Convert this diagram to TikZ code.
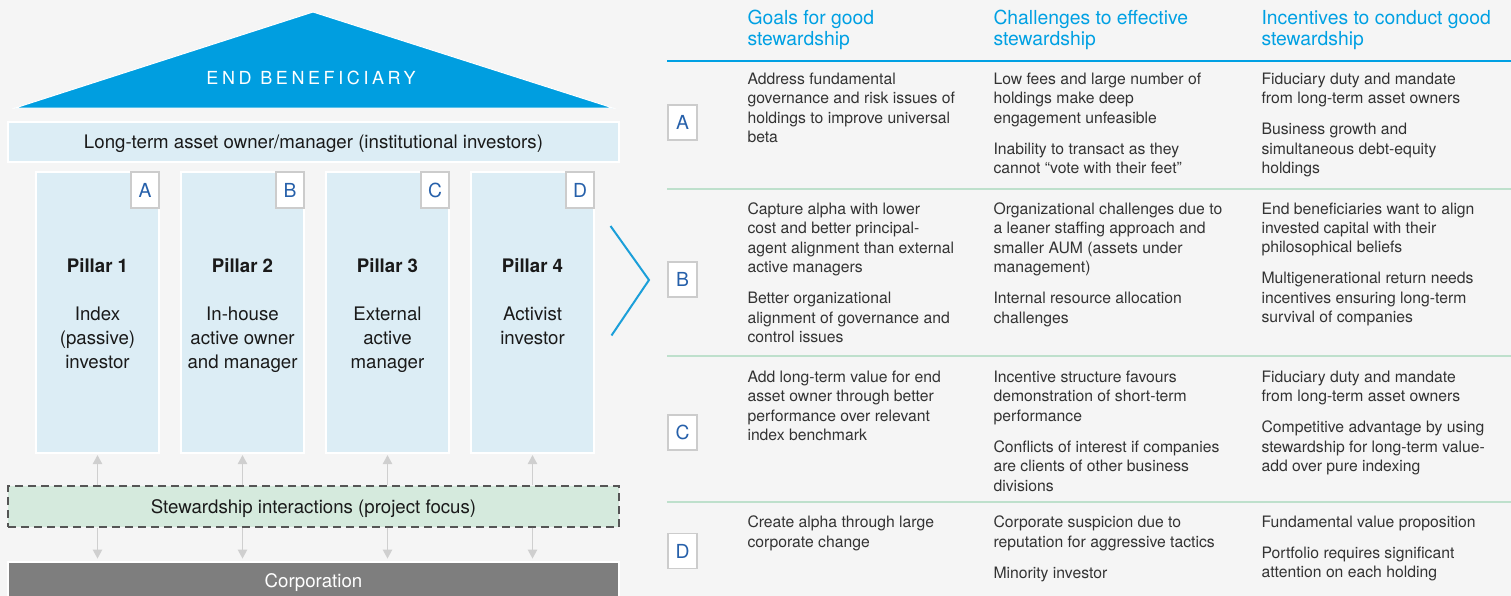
\documentclass[tikz,border=0pt]{standalone}
\usepackage{fontspec}
\setmainfont{TeX Gyre Heros}
\newfontfamily\spacedfont[LetterSpace=20]{TeX Gyre Heros}
\usepackage{tikz}
\usetikzlibrary{arrows.meta}
\definecolor{pagegray}{RGB}{245,245,245}
\definecolor{roofblue}{RGB}{0,158,224}
\definecolor{paleblue}{RGB}{220,237,245}
\definecolor{palegreen}{RGB}{213,234,221}
\definecolor{corpgray}{RGB}{126,126,126}
\definecolor{headblue}{RGB}{0,160,227}
\definecolor{letterblue}{RGB}{38,96,170}
\definecolor{rulegreen}{RGB}{190,224,204}
\definecolor{boxgray}{RGB}{204,204,204}
\definecolor{arrowgray}{RGB}{207,207,207}
\definecolor{bodytext}{RGB}{51,51,51}
\tikzset{every picture/.style={line width=0.75pt},
  bigtext/.style={text={rgb,255:red,26;green,26;blue,26}, font=\fontsize{14pt}{18pt}\selectfont},
  band/.style={bigtext, draw=white, line width=1.1pt, minimum width=458.25pt, inner sep=0pt, text height=10pt, text depth=0pt},
  pillar/.style={draw=white, line width=1.1pt, fill=paleblue, minimum width=92.25pt, minimum height=210.75pt, inner sep=0pt},
  lettertag/.style={draw=boxgray, line width=1.1pt, fill=white, text=letterblue, font=\fontsize{14.5pt}{17pt}\selectfont, inner sep=0pt},
  pillartag/.style={lettertag, minimum width=21pt, minimum height=27pt, anchor=north east},
  rowtag/.style={lettertag, minimum width=21.75pt, minimum height=26.25pt},
  pillartitle/.style={bigtext, font=\fontsize{14pt}{18pt}\selectfont\bfseries},
  pillartext/.style={bigtext, align=center, anchor=north, inner sep=0pt},
  flow/.style={draw=arrowgray, line width=1.1pt, -{Triangle[width=7pt,length=6.75pt]}},
  colhead/.style={text=headblue, font=\fontsize{14.5pt}{15.75pt}\selectfont, align=left, anchor=north west, inner sep=0pt},
  cell/.style={text=bodytext, font=\fontsize{11.8pt}{14.6pt}\selectfont, align=left, anchor=north west, inner sep=0pt},
  headrule/.style={draw=headblue, line width=1.1pt},
  rowrule/.style={draw=rulegreen, line width=1.1pt}
}

\begin{document}
\begin{tikzpicture}[x=0.75pt,y=0.75pt,yscale=-1,xscale=1]
	%Page background, fixes the size
	\fill [pagegray] (0,0) rectangle (1511,596);
	\useasboundingbox (0,0) rectangle (1511,596);
	
	%Shape: Triangle (roof)
	\draw  [draw=white, fill=roofblue] (313,12) -- (613,108) -- (15,108) -- cycle ;
	% Text Node
	\node [text=white, font=\spacedfont\fontsize{13.5pt}{16pt}\selectfont] (roof) at (311,78) {END BENEFICIARY};
	
	%Shape: Rectangle (owner band)
	\node [band, fill=paleblue, minimum height=30pt] (owner) at (313.5,142) {Long-term asset owner/manager (institutional investors)};
	
	%Shape: Rectangle (pillars)
	\node [pillar] (p1) at (97.5,312.5) {};
	\node [pillar] (p2) at (242.5,312.5) {};
	\node [pillar] (p3) at (387.5,312.5) {};
	\node [pillar] (p4) at (532.5,312.5) {};
	\node [pillartag] (tagA) at (p1.north east) {A};
	\node [pillartag] (tagB) at (p2.north east) {B};
	\node [pillartag] (tagC) at (p3.north east) {C};
	\node [pillartag] (tagD) at (p4.north east) {D};
	
	% Text Node
	\node [pillartitle] (t1) at (97.5,266) {Pillar 1};
	\node [pillartitle] (t2) at (242.5,266) {Pillar 2};
	\node [pillartitle] (t3) at (387.5,266) {Pillar 3};
	\node [pillartitle] (t4) at (532.5,266) {Pillar 4};
	\node [pillartext] (d1) at (97.5,306) {Index\\(passive)\\investor};
	\node [pillartext] (d2) at (242.5,306) {In-house\\active owner\\and manager};
	\node [pillartext] (d3) at (387.5,306) {External\\active\\manager};
	\node [pillartext] (d4) at (532.5,306) {Activist\\investor};
	
	%Shape: Rectangle (stewardship, dashed)
	\node [band, fill=palegreen, minimum height=30.75pt, draw={rgb,255:red,85;green,85;blue,85}, dash pattern={on 6pt off 3.75pt}] (stew) at (313.5,506.5) {Stewardship interactions (project focus)};
	%Shape: Rectangle (corporation)
	\node [band, fill=corpgray, minimum height=28.5pt, text=white] (corp) at (313.5,581) {Corporation};
	
	%Straight Lines (up to the pillars)
	\draw [flow, shorten >=1pt] (stew.north -| p1.south) -- (p1.south) ;
	\draw [flow, shorten >=1pt] (stew.north -| p2.south) -- (p2.south) ;
	\draw [flow, shorten >=1pt] (stew.north -| p3.south) -- (p3.south) ;
	\draw [flow, shorten >=1pt] (stew.north -| p4.south) -- (p4.south) ;
	%Straight Lines (down to the corporation)
	\draw [flow, shorten >=2pt] (stew.south -| p1.south) -- (corp.north -| p1.south) ;
	\draw [flow, shorten >=2pt] (stew.south -| p2.south) -- (corp.north -| p2.south) ;
	\draw [flow, shorten >=2pt] (stew.south -| p3.south) -- (corp.north -| p3.south) ;
	\draw [flow, shorten >=2pt] (stew.south -| p4.south) -- (corp.north -| p4.south) ;
	
	%Shape: Chevron
	\draw [draw={rgb,255:red,27;green,159;blue,217}, line width=1.5pt] (610.5,226) -- (649,280) -- (611.5,335.5) ;
	
	% Text Node (column heads)
	\node [colhead] (hgoal) at (747,9.5) {Goals for good\\stewardship};
	\node [colhead] (hchal) at (993,9.5) {Challenges to effective\\stewardship};
	\node [colhead] (hince) at (1261,9.5) {Incentives to conduct good\\stewardship};
	
	%Straight Lines (rules)
	\draw [headrule] (667,61) -- (1511,61) ;
	\draw [rowrule] (667,189) -- (1511,189) ;
	\draw [rowrule] (667,356) -- (1511,356) ;
	\draw [rowrule] (667,502) -- (1511,502) ;
	
	%Shape: Rectangle (row tags)
	\node [rowtag] (rowA) at (682.5,122.5) {A};
	\node [rowtag] (rowB) at (682.5,279.5) {B};
	\node [rowtag] (rowC) at (682.5,432.5) {C};
	\node [rowtag] (rowD) at (682.5,551) {D};
	
	% Text Node (row A)
	\node [cell] (goalA) at (747,72.5) {Address fundamental\\governance and risk issues of\\holdings to improve universal\\beta};
	\node [cell] (chalA) at (993,72.5) {Low fees and large number of\\holdings make deep\\engagement unfeasible\\[8.6pt]Inability to transact as they\\cannot “vote with their feet”};
	\node [cell] (inceA) at (1261,72.5) {Fiduciary duty and mandate\\from long-term asset owners\\[8.6pt]Business growth and\\simultaneous debt-equity\\holdings};
	% Text Node (row B)
	\node [cell] (goalB) at (747,202) {Capture alpha with lower\\cost and better principal-\\agent alignment than external\\active managers\\[8.6pt]Better organizational\\alignment of governance and\\control issues};
	\node [cell] (chalB) at (993,202) {Organizational challenges due to\\a leaner staffing approach and\\smaller AUM (assets under\\management)\\[8.6pt]Internal resource allocation\\challenges};
	\node [cell] (inceB) at (1261,202) {End beneficiaries want to align\\invested capital with their\\philosophical beliefs\\[8.6pt]Multigenerational return needs\\incentives ensuring long-term\\survival of companies};
	% Text Node (row C)
	\node [cell] (goalC) at (747,370.5) {Add long-term value for end\\asset owner through better\\performance over relevant\\index benchmark};
	\node [cell] (chalC) at (993,370.5) {Incentive structure favours\\demonstration of short-term\\performance\\[8.6pt]Conflicts of interest if companies\\are clients of other business\\divisions};
	\node [cell] (inceC) at (1261,370.5) {Fiduciary duty and mandate\\from long-term asset owners\\[8.6pt]Competitive advantage by using\\stewardship for long-term value-\\add over pure indexing};
	% Text Node (row D)
	\node [cell] (goalD) at (747,515.5) {Create alpha through large\\corporate change};
	\node [cell] (chalD) at (993,515.5) {Corporate suspicion due to\\reputation for aggressive tactics\\[8.6pt]Minority investor};
	\node [cell] (inceD) at (1261,515.5) {Fundamental value proposition\\[8.6pt]Portfolio requires significant\\attention on each holding};
\end{tikzpicture}
\end{document}
